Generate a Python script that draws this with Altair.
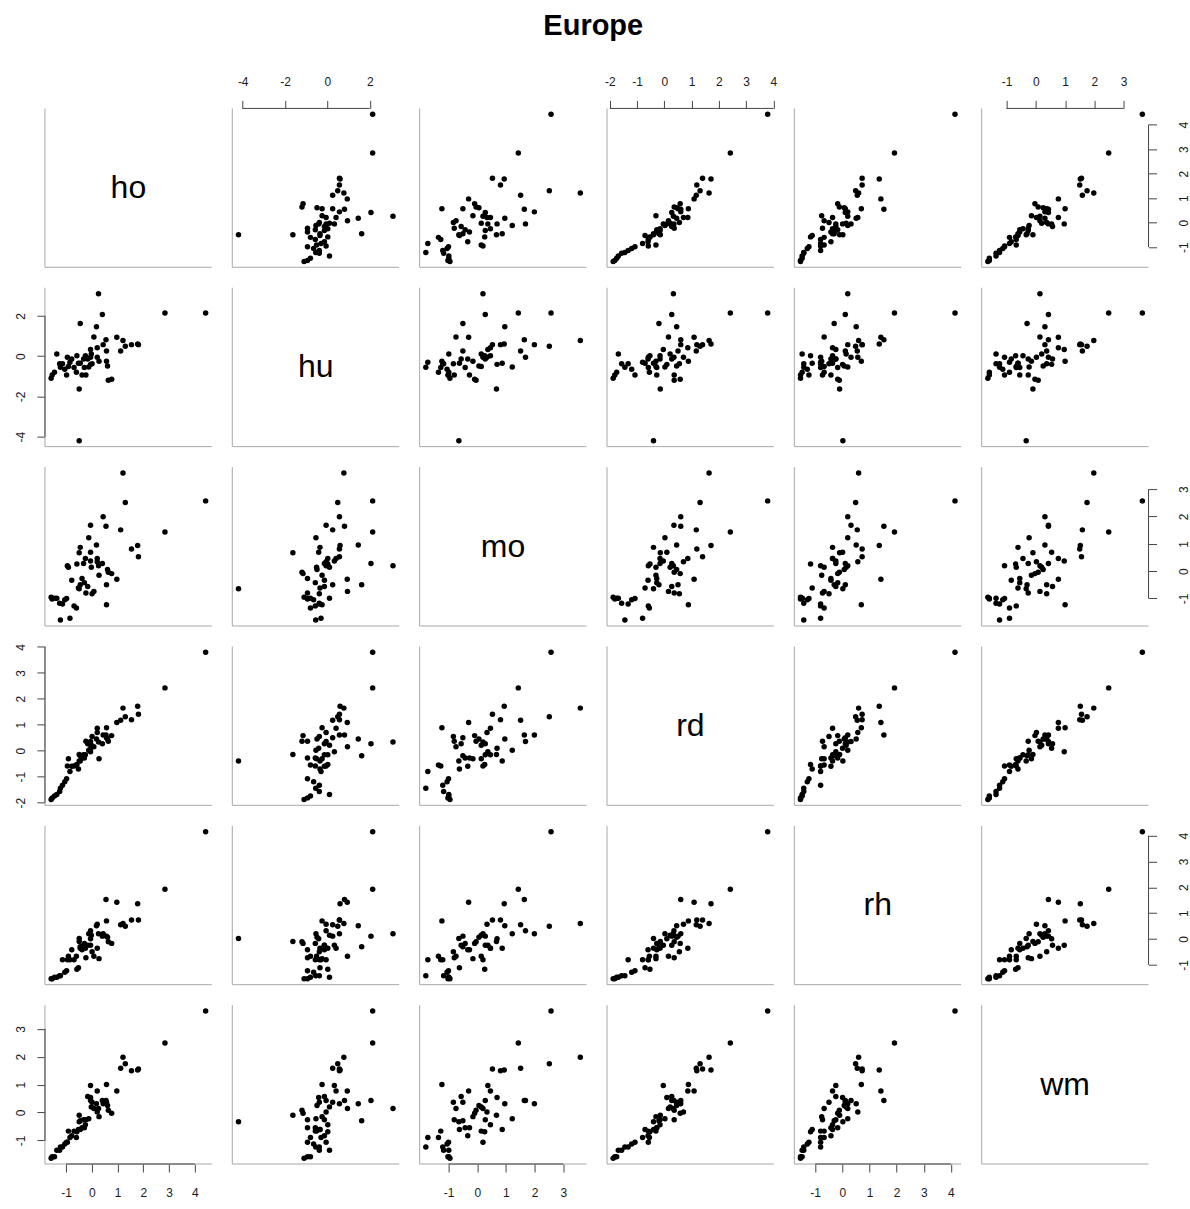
import altair as alt
import pandas as pd

names = ["ho", "hu", "mo", "rd", "rh", "wm"]

ho = [4.42, 2.84, 1.81, 1.78, 1.54, 1.30, 1.21, 1.12, 0.97, 0.77,
      0.64, 0.61, 0.57, 0.57, 0.55, 0.44, 0.41, 0.28, 0.26, 0.21,
      0.21, 0.18, 0.08, 0.01, -0.02, -0.05, -0.05, -0.05, -0.12, -0.16,
      -0.23, -0.25, -0.29, -0.32, -0.38, -0.45, -0.45, -0.49, -0.49, -0.52,
      -0.58, -0.60, -0.69, -0.78, -0.85, -0.91, -0.95, -0.98, -1.05, -1.14,
      -1.22, -1.25, -1.36, -1.45, -1.54, -1.58]
hu = [2.14, 2.14, 0.57, 0.60, 0.57, 0.49, 0.78, 0.25, 0.94, -1.15,
      -1.20, -0.49, -0.25, 0.25, 0.81, 0.57, 2.06, -0.25, 3.10, -0.06,
      0.41, 1.46, 0.95, -0.38, 0.10, 0.33, -0.41, -0.06, -0.54, -0.14,
      -0.94, 0.02, -0.57, -0.14, -0.94, 1.62, -0.35, -4.20, -1.63, -0.35,
      0.02, -0.80, -0.57, -0.14, -0.30, -0.51, -0.06, -0.94, -0.65, -0.38,
      -0.55, -0.38, 0.10, -0.80, -0.94, -1.10]
mo = [2.57, 1.43, 0.53, 0.94, 0.81, 2.51, 3.59, 1.51, -0.30, -0.09,
      -0.04, 0.06, -1.23, -0.50, 1.64, 1.99, 0.28, -0.15, 0.20, 0.34,
      0.46, 0.96, -0.74, -0.83, 0.14, 0.37, 0.69, 1.68, 1.22, -0.56,
      -0.80, 0.46, -0.42, 0.28, -0.27, -0.50, 0.87, -0.64, 0.67, -0.62,
      0.26, -1.35, -1.27, -0.33, -1.72, 0.14, 0.20, -1.00, -1.05, -1.20,
      -1.79, -1.17, -0.99, -0.99, -1.02, -0.95]
rd = [3.79, 2.42, 1.40, 1.71, 1.19, 1.31, 1.64, 1.17, 1.09, 0.58,
      0.36, 0.45, 0.88, 0.50, 0.60, 0.60, 0.27, -0.31, 0.33, 0.70,
      0.86, 0.45, 0.15, 0.55, 0.21, -0.04, 0.09, 0.35, 0.02, 0.27,
      0.36, -0.16, -0.28, -0.16, -0.28, -0.20, -0.40, -0.40, -0.15, -0.71,
      -0.53, -0.55, -0.59, -0.60, -0.80, -0.31, -0.59, -1.08, -1.20, -1.33,
      -1.45, -1.57, -1.69, -1.75, -1.82, -1.88]
rh = [4.15, 1.92, 0.73, 1.36, 0.73, 0.49, 0.60, 0.55, 1.42, -0.17,
      -0.11, 0.07, 0.70, 0.11, 1.53, 0.20, 0.11, -0.76, 0.20, 0.57,
      -0.36, 0.51, -0.67, -0.49, 0.14, -0.24, 0.01, 0.32, 0.20, -0.24,
      -0.73, -0.36, -0.17, -0.24, -0.42, -0.30, -0.36, 0.02, -0.10, -1.11,
      -1.17, -0.67, -0.80, -0.42, -0.80, -0.67, -0.80, -1.23, -1.29, -0.80,
      -1.42, -1.42, -1.48, -1.48, -1.54, -1.54]
wm = [3.64, 2.49, 1.56, 1.52, 1.50, 1.75, 1.98, 1.59, 0.77, -0.03,
      0.08, 0.25, 1.00, 0.37, 0.43, 0.31, 0.43, -0.15, 0.14, 0.02,
      0.77, 0.31, 0.14, 0.37, 0.20, 0.97, 0.54, 0.43, -0.23, 0.57,
      -0.26, -0.44, -0.55, -0.26, -0.55, -0.30, -0.61, -0.33, -0.10, -0.61,
      -0.69, -0.90, -0.67, -0.84, -0.90, -0.67, -1.07, -1.07, -1.13, -1.24,
      -1.24, -1.36, -1.36, -1.59, -1.59, -1.64]

ticks = {
    "ho": [-1, 0, 1, 2, 3, 4],
    "hu": [-4, -2, 0, 2],
    "mo": [-1, 0, 1, 2, 3],
    "rd": [-2, -1, 0, 1, 2, 3, 4],
    "rh": [-1, 0, 1, 2, 3, 4],
    "wm": [-1, 0, 1, 2, 3],
}

df = pd.DataFrame({"ho": ho, "hu": hu, "mo": mo, "rd": rd, "rh": rh, "wm": wm})

W, H, GAP = 167, 159, 20.5
FONT = "Liberation Sans"
AX = "#444444"
BORDER = "#a8a8a8"
one = pd.DataFrame({"k": [0]})


def dom(v):
    lo, hi = float(min(v)), float(max(v))
    pad = 0.04 * (hi - lo)
    return [lo - pad, hi + pad]


domains = {n: dom(df[n]) for n in names}


def border():
    left = alt.Chart(one).mark_rule(color=BORDER, strokeWidth=1).encode(
        x=alt.value(0), y=alt.value(0), y2=alt.value(H))
    bottom = alt.Chart(one).mark_rule(color=BORDER, strokeWidth=1).encode(
        x=alt.value(0), x2=alt.value(W), y=alt.value(H))
    return [left, bottom]


def axis_def(orient, var):
    kw = dict(values=ticks[var], domain=False, grid=False, ticks=True, tickSize=8,
              tickColor=AX, tickWidth=1, labelColor="#1a1a1a", labelFont=FONT,
              labelFontSize=12, labelFlush=False, labelOverlap=False, title=None,
              orient=orient, labelExpr="'' + datum.value")
    if orient == "top":
        kw.update(labelPadding=12, labelAngle=0, labelAlign="center", labelBaseline="bottom")
    elif orient == "bottom":
        kw.update(labelPadding=16, labelAngle=0, labelAlign="center", labelBaseline="top")
    elif orient == "left":
        kw.update(labelPadding=9, labelAngle=270, labelAlign="center", labelBaseline="bottom")
    else:
        kw.update(labelPadding=22, labelAngle=270, labelAlign="center", labelBaseline="top")
    return alt.Axis(**kw)


def scatter(i, j):
    yv, xv = names[i], names[j]
    xorient = None
    yorient = None
    if i == 0 and j % 2 == 1:
        xorient = "top"
    if i == 5 and j % 2 == 0:
        xorient = "bottom"
    if j == 0 and i % 2 == 1:
        yorient = "left"
    if j == 5 and i % 2 == 0:
        yorient = "right"
    xs = alt.Scale(domain=domains[xv], nice=False, zero=False)
    ys = alt.Scale(domain=domains[yv], nice=False, zero=False)
    xaxis = axis_def(xorient, xv) if xorient else None
    yaxis = axis_def(yorient, yv) if yorient else None
    pts = alt.Chart(df).mark_circle(size=30, color="black", opacity=1).encode(
        x=alt.X(xv + ":Q", scale=xs, axis=xaxis),
        y=alt.Y(yv + ":Q", scale=ys, axis=yaxis))
    layers = [pts] + border()
    if xorient:
        t = ticks[xv]
        layers.append(alt.Chart(one).mark_rule(color=AX, strokeWidth=1).encode(
            x=alt.X(datum=t[0], type="quantitative", scale=xs, axis=xaxis),
            x2=alt.X2(datum=t[-1]),
            y=alt.value(0 if xorient == "top" else H)))
    if yorient:
        t = ticks[yv]
        layers.append(alt.Chart(one).mark_rule(color=AX, strokeWidth=1).encode(
            y=alt.Y(datum=t[0], type="quantitative", scale=ys, axis=yaxis),
            y2=alt.Y2(datum=t[-1]),
            x=alt.value(0 if yorient == "left" else W)))
    return alt.layer(*layers).properties(width=W, height=H)


def diag(i):
    txt = alt.Chart(pd.DataFrame({"label": [names[i]]})).mark_text(
        fontSize=32, font=FONT, color="black").encode(
        text="label:N", x=alt.value(W / 2), y=alt.value(H / 2))
    return alt.layer(*border(), txt).properties(width=W, height=H)


panels = []
for i in range(6):
    for j in range(6):
        panels.append(diag(i) if i == j else scatter(i, j))

chart = alt.concat(
    *panels, columns=6, spacing=GAP, bounds="flush",
    title=alt.TitleParams(text="Europe", fontSize=29, fontWeight="bold", font=FONT,
                          anchor="middle", frame="bounds", offset=34, dx=-9,
                          color="black"),
).properties(
    padding={"left": 14, "top": 12, "right": 0, "bottom": 0}
).configure_view(stroke=None)

chart.save("out.html", embed_options={"renderer": "svg", "actions": False})
